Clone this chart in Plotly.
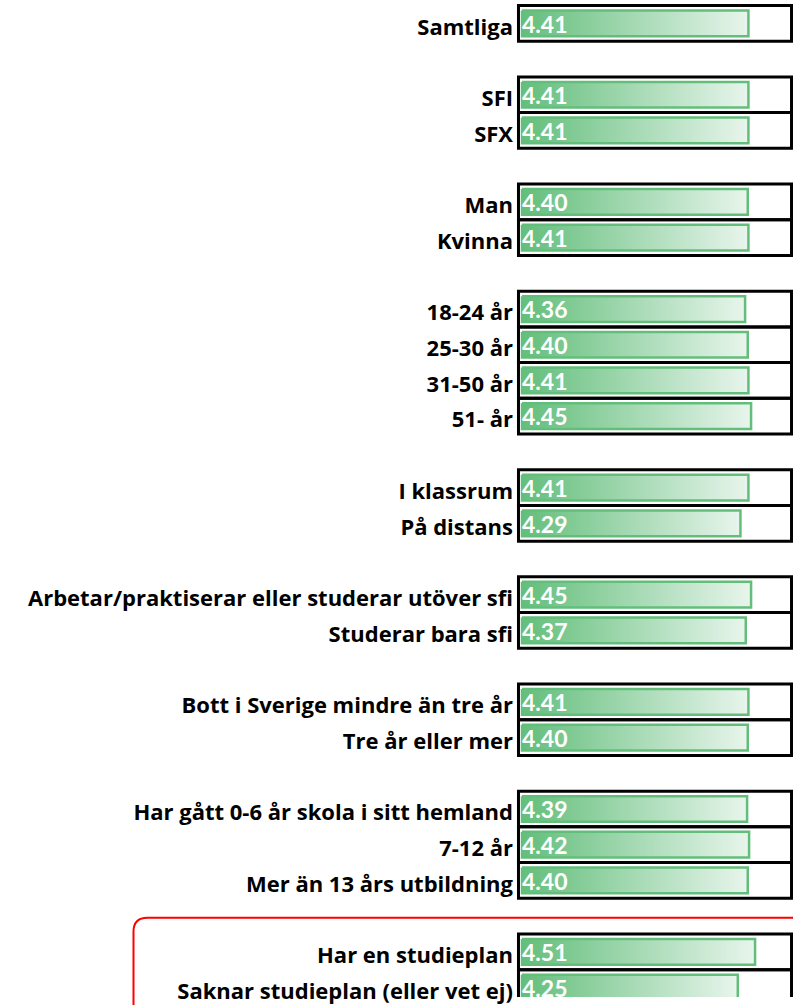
import plotly.graph_objects as go

# ---- data ----
categories = [
    "Samtliga",
    "SFI", "SFX",
    "Man", "Kvinna",
    "18-24 år", "25-30 år", "31-50 år", "51- år",
    "I klassrum", "På distans",
    "Arbetar/praktiserar eller studerar utöver sfi", "Studerar bara sfi",
    "Bott i Sverige mindre än tre år", "Tre år eller mer",
    "Har gått 0-6 år skola i sitt hemland", "7-12 år", "Mer än 13 års utbildning",
    "Har en studieplan", "Saknar studieplan (eller vet ej)",
]
values = [
    4.41,
    4.41, 4.41,
    4.40, 4.41,
    4.36, 4.40, 4.41, 4.45,
    4.41, 4.29,
    4.45, 4.37,
    4.41, 4.40,
    4.39, 4.42, 4.40,
    4.51, 4.25,
]
group_sizes = [1, 2, 2, 4, 2, 2, 2, 3, 2]
scale_min, scale_max = 1, 5

# ---- row positions (one blank row between groups) ----
rows = []
r = 0
for g in group_sizes:
    for _ in range(g):
        rows.append(r)
        r += 1
    r += 1

GREEN = "#63BE7B"
LIGHT = "#E8F5EC"
half = 0.36
text_drop = 0.1  # text sits slightly below row centre

fig = go.Figure()

for v, y in zip(values, rows):
    fig.add_trace(go.Scatter(
        x=[scale_min, v, v, scale_min, scale_min],
        y=[y - half, y - half, y + half, y + half, y - half],
        mode="lines",
        fill="toself",
        fillgradient=dict(type="horizontal",
                          colorscale=[[0, GREEN], [1, LIGHT]]),
        line=dict(color=GREEN, width=2.5),
        hoverinfo="skip",
        showlegend=False,
    ))

fig.add_trace(go.Scatter(
    x=[scale_min] * len(values),
    y=[y + text_drop for y in rows],
    mode="text",
    text=[f"{v:.2f}" for v in values],
    textposition="middle right",
    textfont=dict(family="Lato", size=23, color="white", weight="bold"),
    hoverinfo="skip",
    showlegend=False,
    cliponaxis=False,
))

# cell boxes
shapes = []
for y in rows:
    shapes.append(dict(type="rect", xref="x", yref="y",
                       x0=0.947, x1=5.059, y0=y - 0.5, y1=y + 0.5,
                       line=dict(color="black", width=3), layer="below"))

# red rounded frame around last group (paper coordinates)
L = 514
PW = 793 - L
PH = 1005
def px(p):
    return (p - L) / PW
def py(p):
    return 1 - p / PH
rad = 14
xl, xr = px(133.5), px(805)
yt, yb = py(925), py(1015)
path = (f"M {xl},{yb} L {xl},{py(925 + rad)} "
        f"Q {xl},{yt} {px(133.5 + rad)},{yt} L {xr},{yt}")
shapes.append(dict(type="path", xref="paper", yref="paper", path=path,
                   line=dict(color="#FF0000", width=2)))

fig.update_layout(
    width=793, height=1005,
    margin=dict(l=L, r=0, t=0, b=0),
    paper_bgcolor="white", plot_bgcolor="white",
    shapes=shapes,
    showlegend=False,
)
x_a = 1 - 8 / 66.4
fig.update_xaxes(range=[x_a, x_a + PW / 66.4], visible=False, fixedrange=True)
fig.update_yaxes(
    range=[(1005 - 23.5) / 36, -23.5 / 36],
    tickvals=[y + text_drop for y in rows], ticktext=categories,
    tickfont=dict(family="Open Sans", size=22, color="black", weight="bold"),
    ticks="", showgrid=False, zeroline=False, showline=False,
    ticklabelstandoff=0, ticklabeloverflow="allow", fixedrange=True,
)

fig.write_html("out.html",
               config={"displayModeBar": False},
               post_script="document.body.style.margin='0';document.body.style.overflow='hidden';")
